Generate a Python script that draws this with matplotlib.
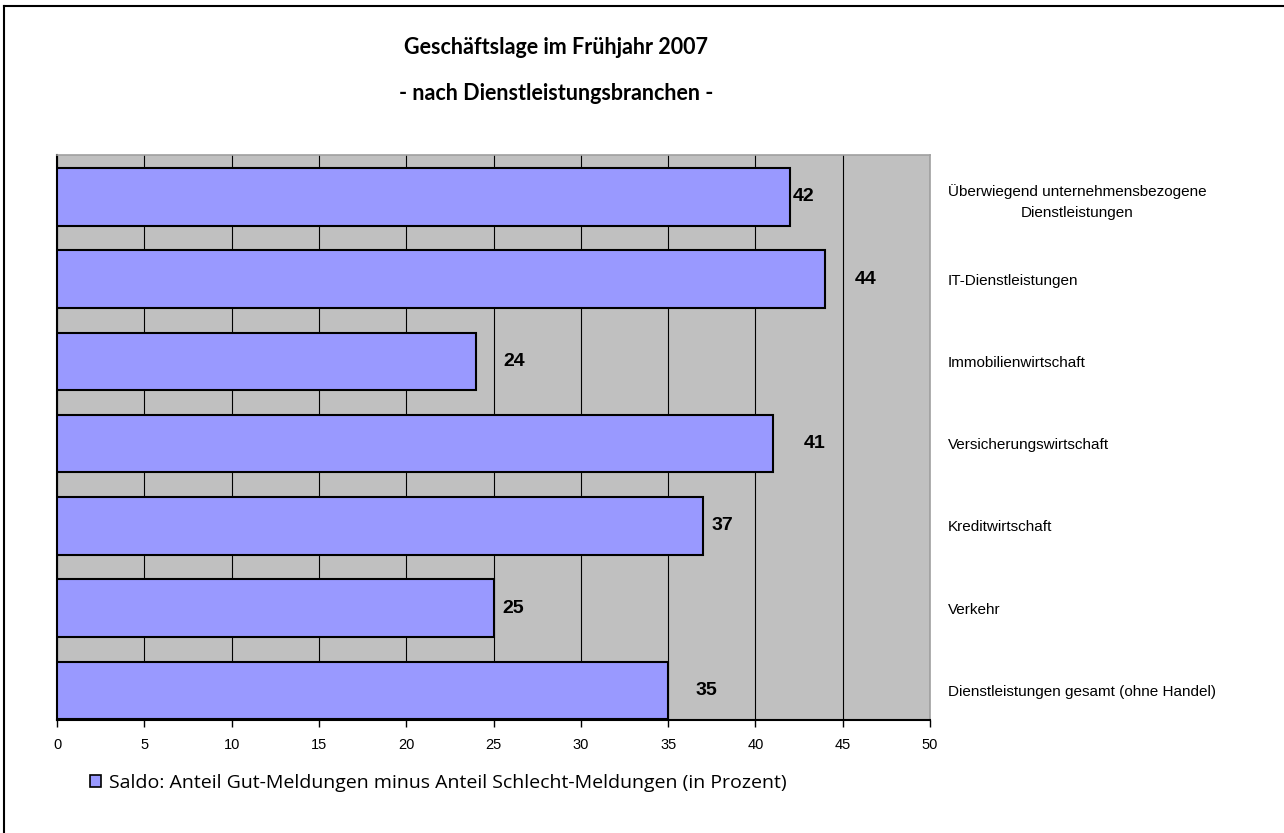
import matplotlib
matplotlib.use("Agg")
import matplotlib.pyplot as plt
from matplotlib.lines import Line2D
from matplotlib.patches import Patch

# data (bottom to top)
branchen = [
    "Dienstleistungen gesamt (ohne Handel)",
    "Verkehr",
    "Kreditwirtschaft",
    "Versicherungswirtschaft",
    "Immobilienwirtschaft",
    "IT-Dienstleistungen",
    "Überwiegend unternehmensbezogene\nDienstleistungen",
]
saldo = [35, 25, 37, 41, 24, 44, 42]
xticks = [0, 5, 10, 15, 20, 25, 30, 35, 40, 45, 50]

title_1 = "Geschäftslage im Frühjahr 2007"
title_2 = "- nach Dienstleistungsbranchen -"
legend_text = "Saldo: Anteil Gut-Meldungen minus Anteil Schlecht-Meldungen (in Prozent)"

# label distance from bar end (in x units), as in the original
label_pad = [2.2, 1.1, 1.1, 2.4, 2.2, 2.3, 0.75]

W, H = 1284, 833
fig = plt.figure(figsize=(W / 100, H / 100), dpi=100)
ax = fig.add_axes([57 / W, 1 - 720 / H, (930 - 57) / W, (720 - 155) / H])

ax.set_facecolor("#c0c0c0")
ypos = list(range(len(saldo)))
ax.barh(ypos, saldo, height=0.7, color="#9999ff", edgecolor="black", linewidth=1.5, zorder=3)

for y, v, p in zip(ypos, saldo, label_pad):
    ax.text(v + p, y, str(v), ha="center", va="center", fontsize=14,
            fontweight="bold", family="Liberation Sans", zorder=4)

ax.set_xlim(0, 50)
ax.set_ylim(-0.36, 6.51)
ax.set_xticks(xticks)
ax.set_xticklabels([str(t) for t in xticks], family="Liberation Sans", fontsize=10.5)
ax.tick_params(axis="x", length=5, width=1, pad=8, direction="out")
ax.grid(axis="x", color="black", linewidth=0.8, zorder=1)

ax.yaxis.tick_right()
ax.set_yticks(ypos)
ax.set_yticklabels(branchen, family="Liberation Sans", fontsize=11, ha="left",
                   multialignment="center", linespacing=1.6)
ax.tick_params(axis="y", length=0, pad=13)

for s in ["top", "right"]:
    ax.spines[s].set_color("#a0a0a0")
    ax.spines[s].set_linewidth(1.2)
ax.spines["left"].set_linewidth(1.5)
ax.spines["bottom"].set_linewidth(1.5)

fig.text(556 / W, 1 - 48 / H, title_1, ha="center", va="center", fontsize=15.5,
         fontweight="bold", family="Lato")
fig.text(556 / W, 1 - 93 / H, title_2, ha="center", va="center", fontsize=15.5,
         fontweight="bold", family="Lato")

handle = Patch(facecolor="#9999ff", edgecolor="black", linewidth=1.2)
fig.legend([handle], [legend_text], loc="center left", bbox_to_anchor=(72 / W, 1 - 783 / H),
           frameon=False, prop={"family": "Open Sans", "size": 14},
           handlelength=0.6, handleheight=0.6, handletextpad=0.4)

# chart border (only top and left visible)
fig.add_artist(Line2D([4 / W, 1], [1 - 6 / H, 1 - 6 / H], color="black", linewidth=1.5))
fig.add_artist(Line2D([4 / W, 4 / W], [0, 1 - 6 / H], color="black", linewidth=1.5))

fig.savefig("out.png", dpi=100)
